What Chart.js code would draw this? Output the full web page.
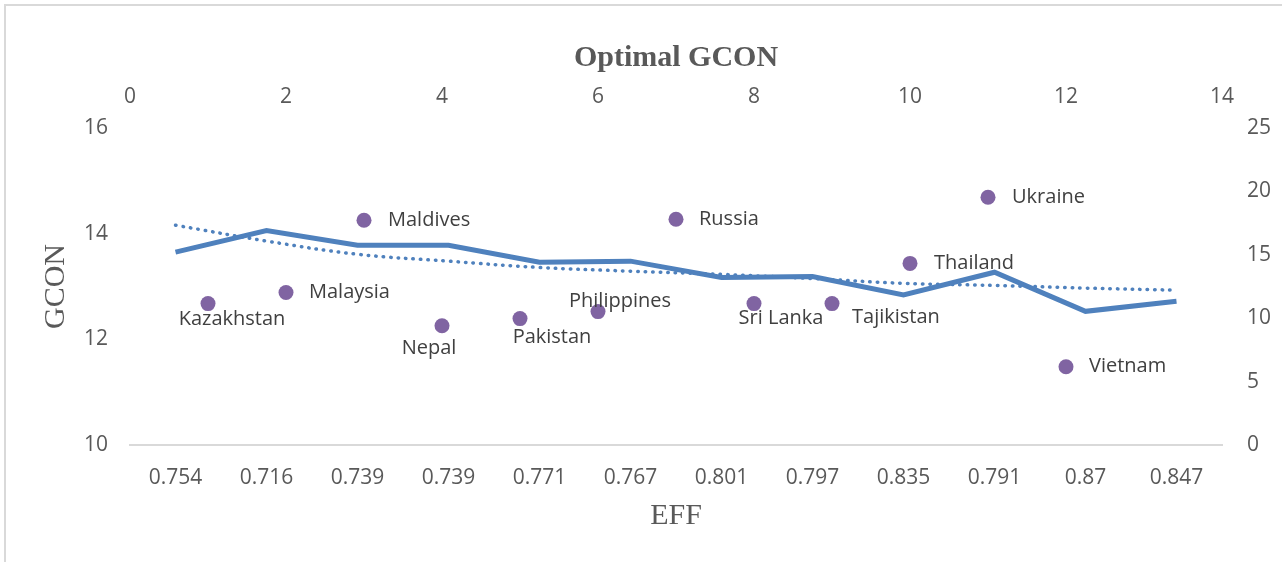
<!DOCTYPE html>
<html lang="en">
<head>
    <meta charset="UTF-8">
    <title>Optimal GCON</title>
    <script src="https://cdn.jsdelivr.net/npm/chart.js"></script>
    <style>
        * {
            margin: 0;
            padding: 0;
            box-sizing: border-box;
        }

        body {
            background-color: #ffffff;
            width: 1282px;
            height: 562px;
            overflow: hidden;
            position: relative;
        }

        .frame {
            position: absolute;
            left: 4px;
            top: 4px;
            width: 1300px;
            height: 600px;
            border: 2px solid #d9d9d9;
            pointer-events: none;
        }

        canvas {
            position: absolute;
            left: 0;
            top: 0;
        }
    </style>
</head>
<body>
    <canvas id="gconChart" width="1282" height="562"></canvas>
    <div class="frame"></div>

    <script>
        // bottom category axis (EFF) and the GCON line on the left axis
        const effLabels = ['0.754', '0.716', '0.739', '0.739', '0.771', '0.767', '0.801', '0.797', '0.835', '0.791', '0.87', '0.847'];
        const gconValues = [13.65, 14.06, 13.78, 13.78, 13.46, 13.48, 13.17, 13.19, 12.84, 13.27, 12.53, 12.72];
        // dotted trend line
        const trendValues = [14.16, 13.86, 13.61, 13.48, 13.36, 13.29, 13.23, 13.15, 13.06, 13.02, 12.97, 12.93];

        // scatter on the top / right axes (Optimal GCON)
        const countries = ['Kazakhstan', 'Malaysia', 'Maldives', 'Nepal', 'Pakistan', 'Philippines', 'Russia', 'Sri Lanka', 'Tajikistan', 'Thailand', 'Ukraine', 'Vietnam'];
        const countryIndex = [1, 2, 3, 4, 5, 6, 7, 8, 9, 10, 11, 12];
        const optimalGcon = [11.15, 12.03, 17.72, 9.41, 9.97, 10.52, 17.8, 11.15, 11.15, 14.32, 19.54, 6.17];

        // where each country name sits relative to its dot: [align, dx, dy]
        const labelPlacement = [
            ['center', 24, 16], ['left', 23, 0], ['left', 24, 0], ['center', -13, 23],
            ['center', 32, 19], ['center', 22, -10], ['left', 23, 0], ['center', 27, 15],
            ['left', 20, 14], ['left', 24, 0], ['left', 24, 0], ['left', 23, 0]
        ];

        const tickFont = { family: "'Open Sans', sans-serif", size: 21 };
        const serif = "'Liberation Serif', 'Times New Roman', serif";

        const pointLabels = {
            id: 'pointLabels',
            afterDatasetsDraw(chart) {
                const meta = chart.getDatasetMeta(2);
                const ctx = chart.ctx;
                ctx.save();
                ctx.font = "20px 'Open Sans', sans-serif";
                ctx.fillStyle = '#404040';
                ctx.textBaseline = 'middle';
                meta.data.forEach((pt, i) => {
                    const p = labelPlacement[i];
                    ctx.textAlign = p[0];
                    ctx.fillText(countries[i], pt.x + p[1], pt.y + p[2]);
                });
                ctx.restore();
            }
        };

        const ctx = document.getElementById('gconChart').getContext('2d');
        new Chart(ctx, {
            type: 'line',
            data: {
                labels: effLabels,
                datasets: [{
                    label: 'GCON',
                    data: gconValues,
                    xAxisID: 'x',
                    yAxisID: 'y',
                    borderColor: '#4f81bd',
                    borderWidth: 5,
                    borderJoinStyle: 'miter',
                    pointRadius: 0,
                    tension: 0
                }, {
                    label: 'Trend',
                    data: trendValues,
                    xAxisID: 'x',
                    yAxisID: 'y',
                    borderColor: '#4f81bd',
                    borderWidth: 3.5,
                    borderDash: [0.5, 7],
                    borderCapStyle: 'round',
                    pointRadius: 0,
                    tension: 0.4
                }, {
                    type: 'scatter',
                    label: 'Optimal GCON',
                    data: countryIndex.map((c, i) => ({ x: c, y: optimalGcon[i] })),
                    xAxisID: 'x2',
                    yAxisID: 'y2',
                    backgroundColor: '#8064a2',
                    borderColor: '#8064a2',
                    pointRadius: 7.5,
                    pointBorderWidth: 0
                }]
            },
            options: {
                responsive: false,
                animation: false,
                layout: { padding: 0 },
                plugins: {
                    legend: { display: false },
                    tooltip: { enabled: false }
                },
                scales: {
                    x: {
                        type: 'category',
                        position: 'bottom',
                        offset: true,
                        grid: { display: false, drawTicks: false },
                        border: { display: true, color: '#d9d9d9', width: 2 },
                        ticks: { color: '#595959', font: tickFont, padding: 20, maxRotation: 0, autoSkip: false },
                        title: { display: true, text: 'EFF', color: '#595959', font: { family: serif, size: 30 }, padding: { top: 0, bottom: 28 } },
                        afterFit: s => { s.height = 117; }
                    },
                    x2: {
                        type: 'linear',
                        position: 'top',
                        min: 0,
                        max: 14,
                        grid: { display: false, drawTicks: false },
                        border: { display: false },
                        ticks: { stepSize: 2, color: '#595959', font: tickFont, padding: 18, maxRotation: 0 },
                        title: { display: true, text: 'Optimal GCON', color: '#595959', font: { family: serif, size: 30, weight: 'bold' }, padding: { top: 40, bottom: 0 } },
                        afterFit: s => { s.height = 128; }
                    },
                    y: {
                        position: 'left',
                        min: 10,
                        max: 16,
                        grid: { display: false, drawTicks: false },
                        border: { display: false },
                        ticks: { stepSize: 2, color: '#595959', font: tickFont, padding: 22 },
                        title: { display: true, text: 'GCON', color: '#595959', font: { family: serif, size: 30 }, padding: { top: 38, bottom: 0 } },
                        afterFit: s => { s.width = 130; }
                    },
                    y2: {
                        position: 'right',
                        min: 0,
                        max: 25,
                        grid: { display: false, drawTicks: false },
                        border: { display: false },
                        ticks: { stepSize: 5, color: '#595959', font: tickFont, padding: 25 },
                        afterFit: s => { s.width = 60; }
                    }
                }
            },
            plugins: [pointLabels]
        });
    </script>
</body>
</html>
